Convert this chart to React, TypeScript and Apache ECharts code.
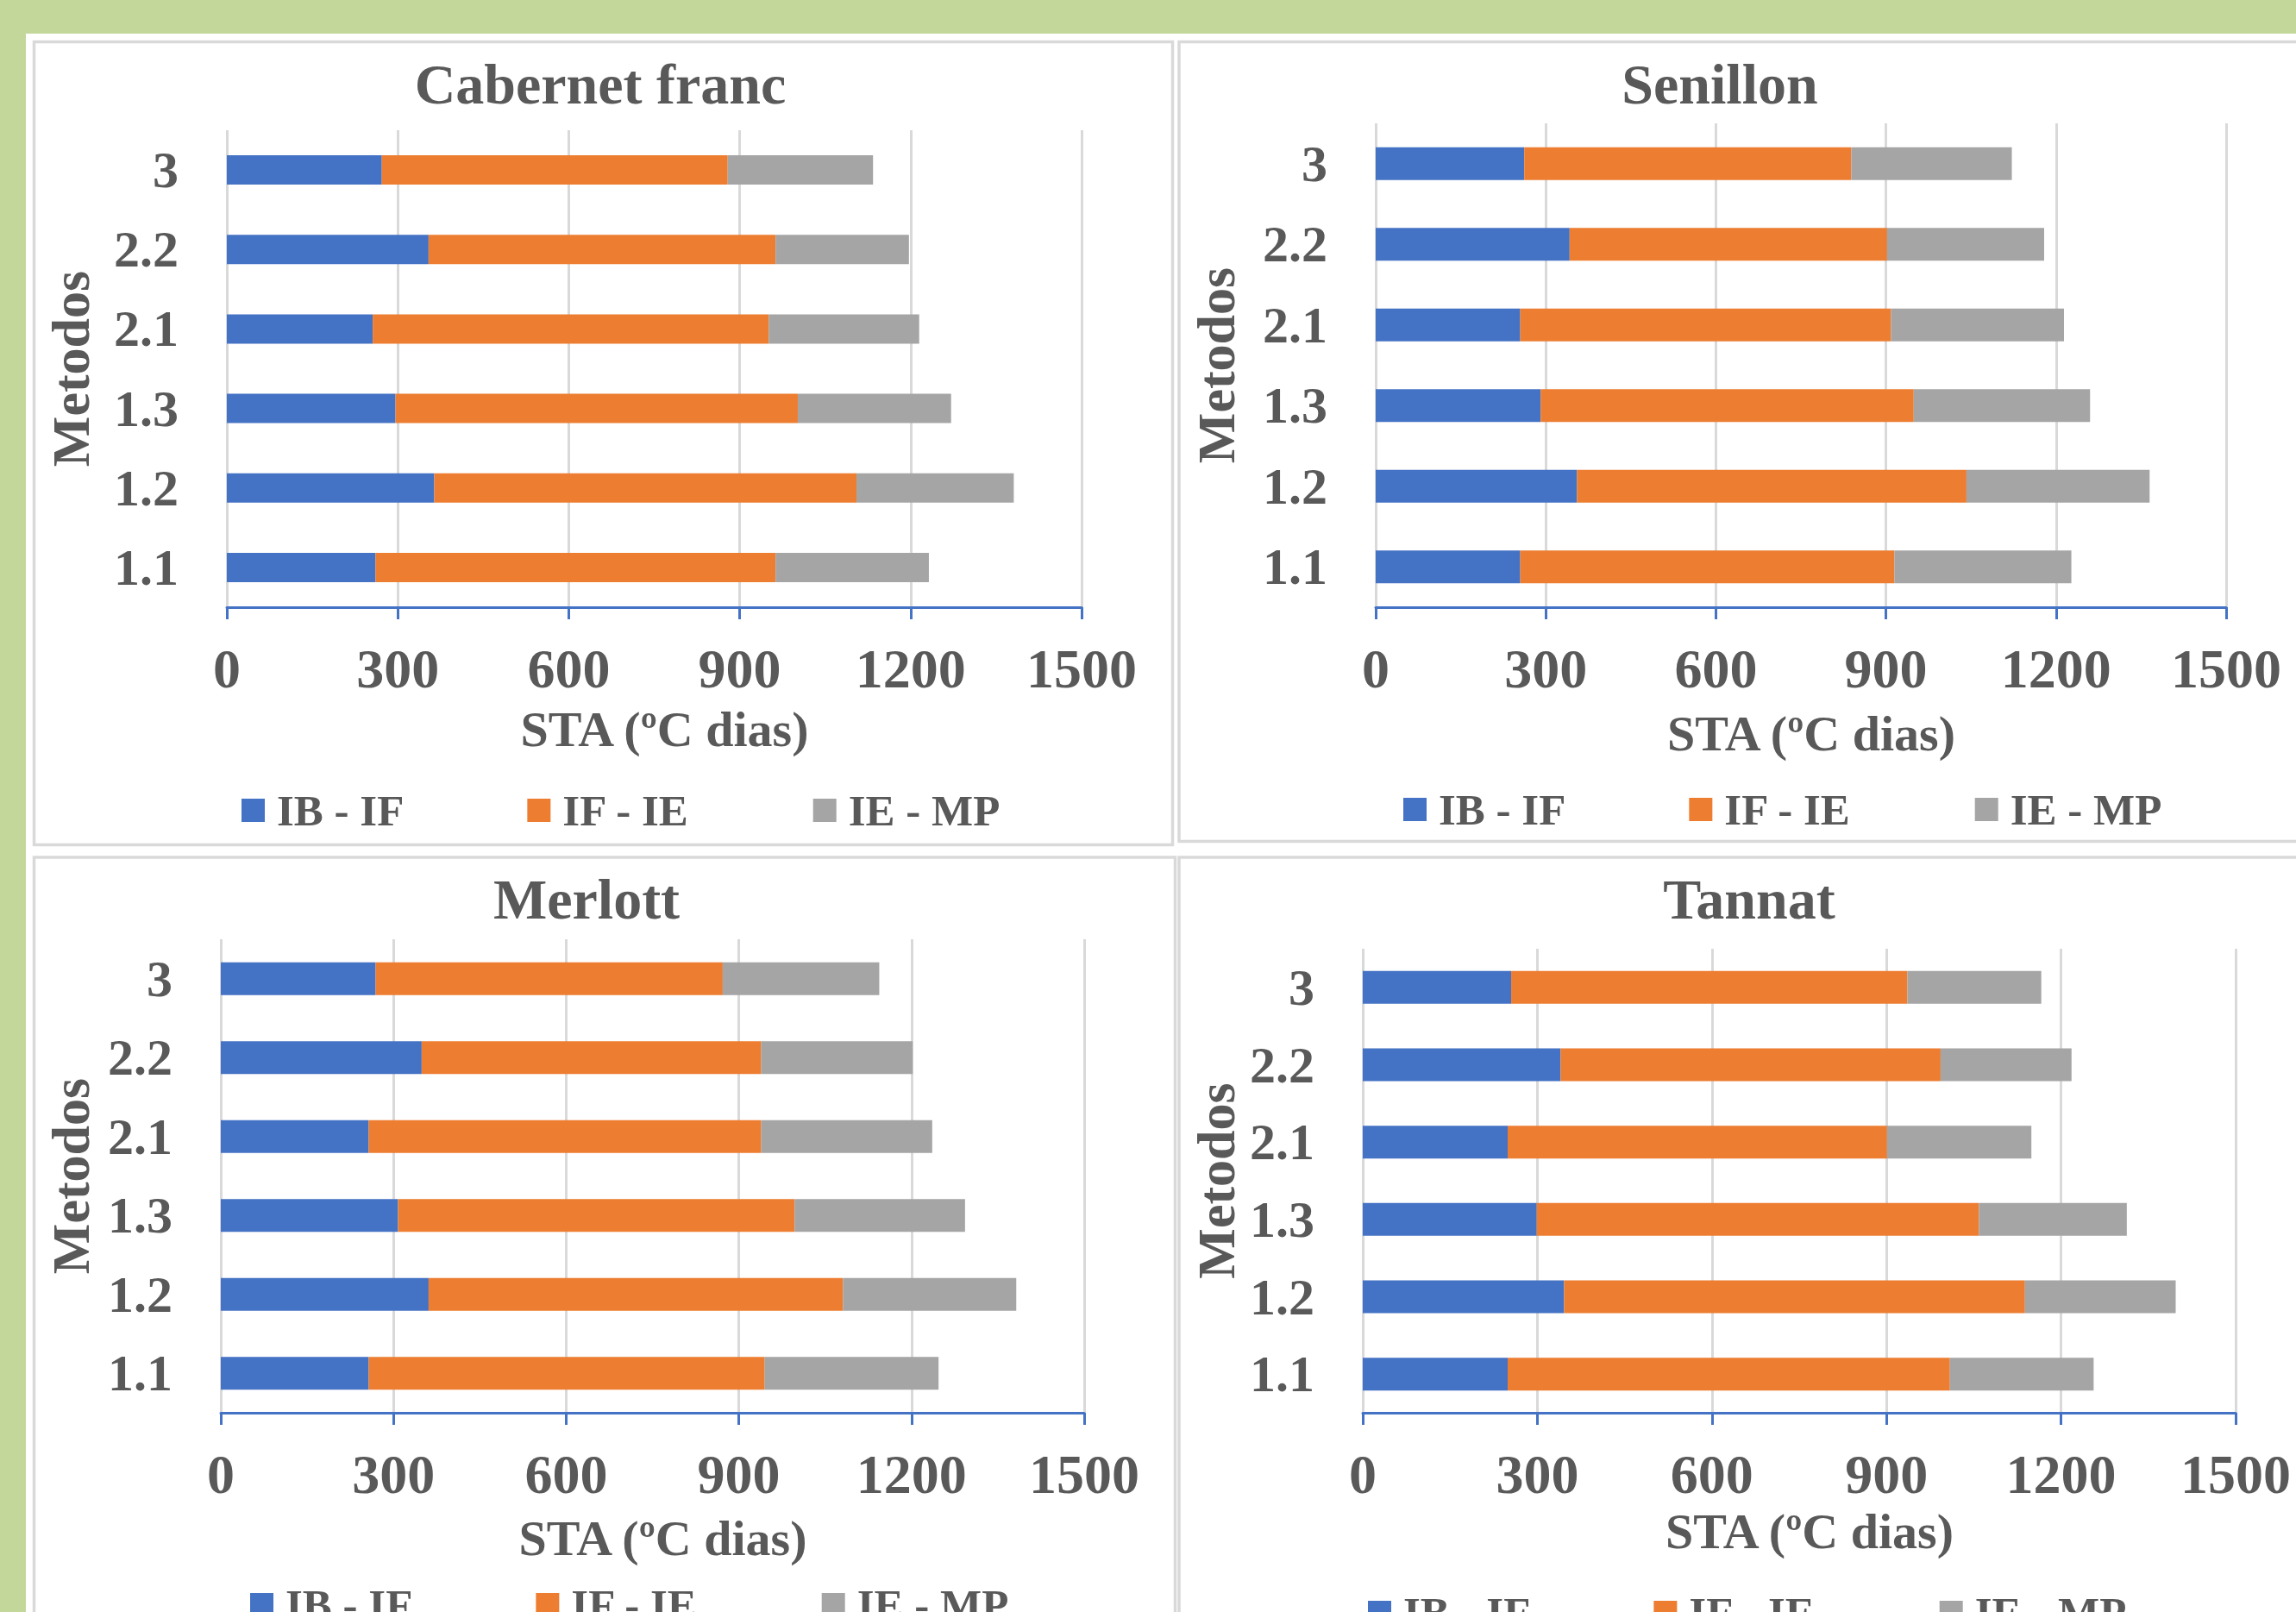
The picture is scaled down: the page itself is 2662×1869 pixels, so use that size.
import React, { useEffect, useRef } from "react";
import * as echarts from "echarts";

// ---------- data ----------
const categories = ["1.1", "1.2", "1.3", "2.1", "2.2", "3"];
const seriesNames = ["IB - IF", "IF - IE", "IE - MP"];
const panelTitles = ["Cabernet franc", "Senillon", "Merlott", "Tannat"];
const xAxisName = "STA (ºC dias)";
const yAxisName = "Metodos";
const xMin = 0;
const xMax = 1500;
const xInterval = 300;

const cabernetIBIF = [261, 364, 296, 256, 354, 272];
const cabernetIFIE = [702, 741, 706, 695, 609, 607];
const cabernetIEMP = [269, 276, 269, 264, 234, 255];

const senillonIBIF = [255, 355, 291, 255, 342, 262];
const senillonIFIE = [660, 687, 658, 654, 560, 577];
const senillonIEMP = [312, 323, 311, 305, 277, 283];

const merlottIBIF = [257, 361, 308, 257, 349, 269];
const merlottIFIE = [688, 720, 689, 682, 590, 603];
const merlottIEMP = [302, 301, 296, 297, 263, 272];

const tannatIBIF = [249, 346, 299, 249, 340, 255];
const tannatIFIE = [760, 792, 760, 652, 653, 681];
const tannatIEMP = [247, 259, 254, 248, 225, 230];

const panelData = [
  [cabernetIBIF, cabernetIFIE, cabernetIEMP],
  [senillonIBIF, senillonIFIE, senillonIEMP],
  [merlottIBIF, merlottIFIE, merlottIEMP],
  [tannatIBIF, tannatIFIE, tannatIEMP],
];

// ---------- layout / style ----------
const colors = ["#4472C4", "#ED7D31", "#A5A5A5"];
const textColor = "#595959";
const font = "'Liberation Serif', 'Times New Roman', serif";

const layouts = [
  { left: 263, top: 151, width: 991, height: 553, barWidth: 34, titleX: 696, titleY: 64, yGap: 150, xGap: 112, legendLeft: 280, legendTop: 914 },
  { left: 1595, top: 143, width: 986, height: 561, barWidth: 38, titleX: 1994, titleY: 64, yGap: 154, xGap: 117, legendLeft: 1627, legendTop: 913 },
  { left: 256, top: 1089, width: 1001, height: 549, barWidth: 38, titleX: 680, titleY: 1009, yGap: 143, xGap: 116, legendLeft: 290, legendTop: 1835 },
  { left: 1580, top: 1100, width: 1012, height: 538, barWidth: 38, titleX: 2028, titleY: 1009, yGap: 139, xGap: 108, legendLeft: 1586, legendTop: 1844 },
];

export default function App() {
  const ref = useRef<HTMLDivElement>(null);

  useEffect(() => {
    if (!ref.current) return;
    const chart = echarts.init(ref.current, undefined, { renderer: "svg" });

    const grid = layouts.map((l) => ({
      left: l.left,
      top: l.top,
      width: l.width,
      height: l.height,
      containLabel: false,
    }));

    const xAxis = layouts.map((l, i) => ({
      type: "value",
      gridIndex: i,
      min: xMin,
      max: xMax,
      interval: xInterval,
      name: xAxisName,
      nameLocation: "middle",
      nameGap: l.xGap,
      nameTextStyle: { fontFamily: font, fontSize: 58, fontWeight: "bold", color: textColor, padding: [0, 0, 0, 24] },
      axisLine: { show: true, lineStyle: { color: "#4472C4", width: 3 } },
      axisTick: { show: true, length: 14, lineStyle: { color: "#4472C4", width: 3 } },
      axisLabel: {
        margin: 39,
        fontFamily: font,
        fontSize: 64,
        fontWeight: "bold",
        color: textColor,
        formatter: (v: number) => String(v),
      },
      splitLine: { show: true, lineStyle: { color: "#D9D9D9", width: 3 } },
    }));

    const yAxis = layouts.map((l, i) => ({
      type: "category",
      gridIndex: i,
      data: categories,
      name: yAxisName,
      nameLocation: "middle",
      nameRotate: 90,
      nameGap: l.yGap,
      nameTextStyle: { fontFamily: font, fontSize: 62, fontWeight: "bold", color: textColor },
      axisLine: { show: false },
      axisTick: { show: false },
      axisLabel: { margin: 56, fontFamily: font, fontSize: 60, fontWeight: "bold", color: textColor },
      splitLine: { show: false },
    }));

    const series: any[] = [];
    panelData.forEach((segs, i) => {
      segs.forEach((vals, j) => {
        series.push({
          type: "bar",
          name: seriesNames[j],
          stack: "p" + i,
          xAxisIndex: i,
          yAxisIndex: i,
          barWidth: layouts[i].barWidth,
          itemStyle: { color: colors[j] },
          data: vals,
        });
      });
    });

    const title = layouts.map((l, i) => ({
      text: panelTitles[i],
      left: l.titleX,
      top: l.titleY,
      padding: 0,
      textAlign: "center",
      textVerticalAlign: "top",
      textStyle: { fontFamily: font, fontSize: 66, fontWeight: "bold", color: textColor },
    }));

    const legend = layouts.map((l) => ({
      data: seriesNames,
      left: l.legendLeft,
      top: l.legendTop,
      orient: "horizontal",
      padding: 0,
      itemGap: 143,
      itemWidth: 27,
      itemHeight: 27,
      icon: "rect",
      textStyle: { fontFamily: font, fontSize: 51, fontWeight: "bold", color: textColor, padding: [0, 0, 0, 9] },
    }));

    const borderStyle = { fill: "none", stroke: "#D9D9D9", lineWidth: 3.5 };
    const graphic = [
      { type: "rect", z: -10, shape: { x: 0, y: 0, width: 2662, height: 39 }, style: { fill: "#C4D79B" } },
      { type: "rect", z: -10, shape: { x: 0, y: 0, width: 30, height: 1869 }, style: { fill: "#C4D79B" } },
      { type: "rect", z: -5, shape: { x: 39.5, y: 48.5, width: 1320, height: 931 }, style: borderStyle },
      { type: "rect", z: -5, shape: { x: 1367, y: 48.5, width: 1400, height: 927 }, style: borderStyle },
      { type: "rect", z: -5, shape: { x: 39.5, y: 994, width: 1323, height: 1000 }, style: borderStyle },
      { type: "rect", z: -5, shape: { x: 1367, y: 994, width: 1400, height: 1000 }, style: borderStyle },
    ];

    chart.setOption({
      animation: false,
      backgroundColor: "#FFFFFF",
      textStyle: { fontFamily: font },
      title,
      legend,
      grid,
      xAxis,
      yAxis,
      series,
      graphic,
    });

    return () => chart.dispose();
  }, []);

  return (
    <div
      ref={ref}
      style={{ position: "fixed", left: 0, top: 0, width: 2662, height: 1869 }}
    />
  );
}
